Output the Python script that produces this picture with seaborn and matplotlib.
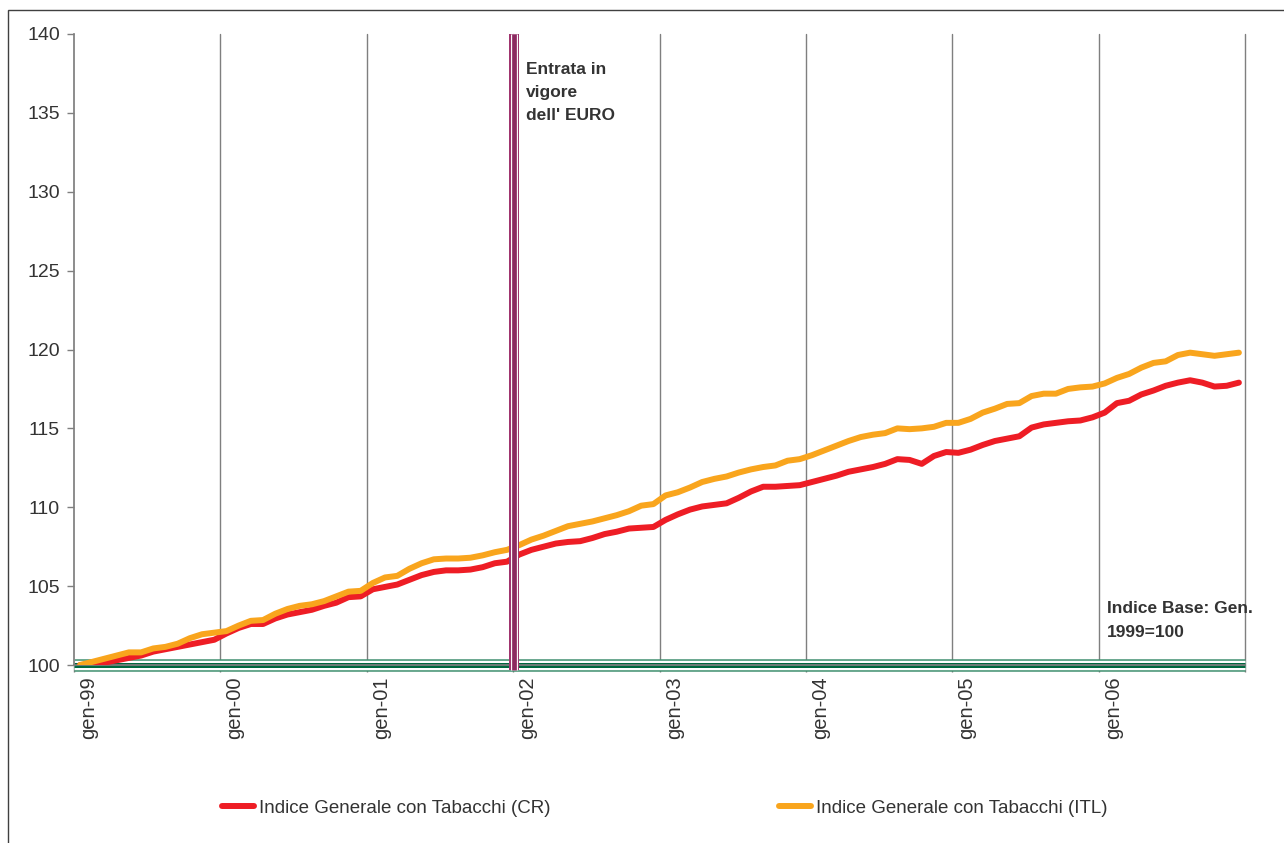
import numpy as np
import pandas as pd
import matplotlib
matplotlib.use("Agg")
import matplotlib.pyplot as plt
from matplotlib.patches import Rectangle
from matplotlib.lines import Line2D
import seaborn as sns

# ---- data (monthly, gen-99 .. dic-06, base gen-1999 = 100) ----
year_labels = ["gen-99", "gen-00", "gen-01", "gen-02", "gen-03", "gen-04", "gen-05", "gen-06"]

cr_values = [
    100.0, 100.05, 100.15, 100.3, 100.45, 100.6, 100.85, 101.0, 101.15, 101.3, 101.45, 101.6,
    102.0, 102.35, 102.6, 102.6, 102.95, 103.2, 103.35, 103.5, 103.75, 103.95, 104.3, 104.35,
    104.8, 104.95, 105.1, 105.4, 105.7, 105.9, 106.0, 106.0, 106.05, 106.2, 106.45, 106.55,
    107.0, 107.3, 107.5, 107.7, 107.8, 107.85, 108.05, 108.3, 108.45, 108.65, 108.7, 108.75,
    109.2, 109.55, 109.85, 110.05, 110.15, 110.25, 110.6, 111.0, 111.3, 111.3, 111.35, 111.4,
    111.6, 111.8, 112.0, 112.25, 112.4, 112.55, 112.75, 113.05, 113.0, 112.75, 113.25, 113.5,
    113.45, 113.65, 113.95, 114.2, 114.35, 114.5, 115.05, 115.25, 115.35, 115.45, 115.5, 115.7,
    116.0, 116.6, 116.75, 117.15, 117.4, 117.7, 117.9, 118.05, 117.9, 117.65, 117.7, 117.9,
]

itl_values = [
    100.0, 100.2, 100.4, 100.6, 100.8, 100.8, 101.05, 101.15, 101.35, 101.7, 101.95, 102.05,
    102.15, 102.5, 102.8, 102.85, 103.25, 103.55, 103.75, 103.85, 104.05, 104.35, 104.65, 104.7,
    105.2, 105.55, 105.65, 106.1, 106.45, 106.7, 106.75, 106.75, 106.8, 106.95, 107.15, 107.3,
    107.6, 107.95, 108.2, 108.5, 108.8, 108.95, 109.1, 109.3, 109.5, 109.75, 110.1, 110.2,
    110.75, 110.95, 111.25, 111.6, 111.8, 111.95, 112.2, 112.4, 112.55, 112.65, 112.95, 113.05,
    113.3, 113.6, 113.9, 114.2, 114.45, 114.6, 114.7, 115.0, 114.95, 115.0, 115.1, 115.35,
    115.35, 115.6, 116.0, 116.25, 116.55, 116.6, 117.05, 117.2, 117.2, 117.5, 117.6, 117.65,
    117.85, 118.2, 118.45, 118.85, 119.15, 119.25, 119.65, 119.8, 119.7, 119.6, 119.7, 119.8,
]

series_names = ["Indice Generale con Tabacchi (CR)", "Indice Generale con Tabacchi (ITL)"]
base_value = 100
euro_month = 35.6          # between dic-01 and gen-02
y_ticks = [100, 105, 110, 115, 120, 125, 130, 135, 140]

# ---- styling ----
sns.set_theme(style="white")
plt.rcParams["font.family"] = ["Liberation Sans", "DejaVu Sans"]

RED = "#EE1D25"
ORANGE = "#F9A51D"
GREEN = "#00683F"
GREEN_LIGHT = "#3F8F6E"
PURPLE = "#8C2A60"
PURPLE_LIGHT = "#A0356F"
TEXT = "#333333"
GRID = "#7F7F7F"

n = len(cr_values)
df = pd.DataFrame({
    "month": list(range(n)) * 2,
    "value": cr_values + itl_values,
    "serie": [series_names[0]] * n + [series_names[1]] * n,
})

fig = plt.figure(figsize=(12.84, 8.43), dpi=100)
ax = fig.add_axes([74 / 1284, 1 - 665 / 843, (1245 - 74) / 1284, (665 - 34) / 843])

# outer chart border
fig.patches.append(Rectangle((8 / 1284, -0.05), 1.2, 1 - 10 / 843 + 0.05,
                             transform=fig.transFigure, fill=False,
                             edgecolor="#404040", linewidth=1.0))

# vertical gridlines at year boundaries
boundaries = [i * 12 - 0.5 for i in range(len(year_labels) + 1)]
for b in boundaries[1:]:
    ax.axvline(b, color=GRID, linewidth=1.0, zorder=1, clip_on=False)

# base line (triple green line)
ax.axhline(base_value, color=GREEN_LIGHT, linewidth=9.0, zorder=2, clip_on=False,
           solid_capstyle="butt")
ax.axhline(base_value, color="white", linewidth=6.8, zorder=2, clip_on=False,
           solid_capstyle="butt")
ax.axhline(base_value, color=GREEN, linewidth=3.6, zorder=2, clip_on=False,
           solid_capstyle="butt")

sns.lineplot(data=df, x="month", y="value", hue="serie",
             palette=[RED, ORANGE], linewidth=4.3, ax=ax, legend=False, zorder=3)

# euro line (triple purple line)
ax.axvline(euro_month, color=PURPLE_LIGHT, linewidth=7.2, zorder=4, clip_on=False,
           ymin=-0.008, solid_capstyle="butt")
ax.axvline(euro_month, color="white", linewidth=5.0, zorder=4, clip_on=False,
           ymin=-0.008, solid_capstyle="butt")
ax.axvline(euro_month, color=PURPLE, linewidth=3.4, zorder=4, clip_on=False,
           ymin=-0.008, solid_capstyle="butt")

ax.set_xlim(-0.5, n - 0.5)
ax.set_ylim(100, 140)

ax.set_yticks(y_ticks)
ax.set_yticklabels([str(t) for t in y_ticks])
ax.set_xticks(boundaries)
ax.set_xticklabels([""] * len(boundaries))
ax.set_xticks([i * 12 + 0.7 for i in range(len(year_labels))], minor=True)
ax.set_xticklabels(year_labels, minor=True, rotation=90)
ax.tick_params(axis="x", which="major", length=5, width=1, color=GRID, direction="out", bottom=True)
ax.tick_params(axis="x", which="minor", length=0, pad=8, labelsize=14.5, labelcolor=TEXT)
ax.tick_params(axis="y", length=5, width=1, color=GRID, direction="out", left=True,
               labelsize=14, labelcolor=TEXT, pad=5)
for lbl in ax.get_xticklabels(minor=True):
    lbl.set_verticalalignment("top")

ax.set_xlabel("")
ax.set_ylabel("")
for s in ["top", "right"]:
    ax.spines[s].set_visible(False)
ax.spines["left"].set_color(GRID)
ax.spines["bottom"].set_color(GRID)
ax.grid(False)

# annotations
ax.text(36.55, 138.25, "Entrata in\nvigore\ndell' EURO", fontsize=12.5, fontweight="bold",
        color=TEXT, va="top", ha="left", linespacing=1.7)
ax.text(84.2, 104.05, "Indice Base: Gen.\n1999=100", fontsize=12.5, fontweight="bold",
        color=TEXT, va="top", ha="left", linespacing=1.7)

handles = [Line2D([], [], color=RED, linewidth=4.3),
           Line2D([], [], color=ORANGE, linewidth=4.3)]
fig.legend(handles, series_names, loc="center", bbox_to_anchor=(665 / 1284, 1 - 808 / 843),
           ncol=2, frameon=False, fontsize=13.5, handlelength=1.7, handletextpad=0.27,
           columnspacing=12.2, labelcolor=TEXT)

fig.savefig("out.png", dpi=100)
